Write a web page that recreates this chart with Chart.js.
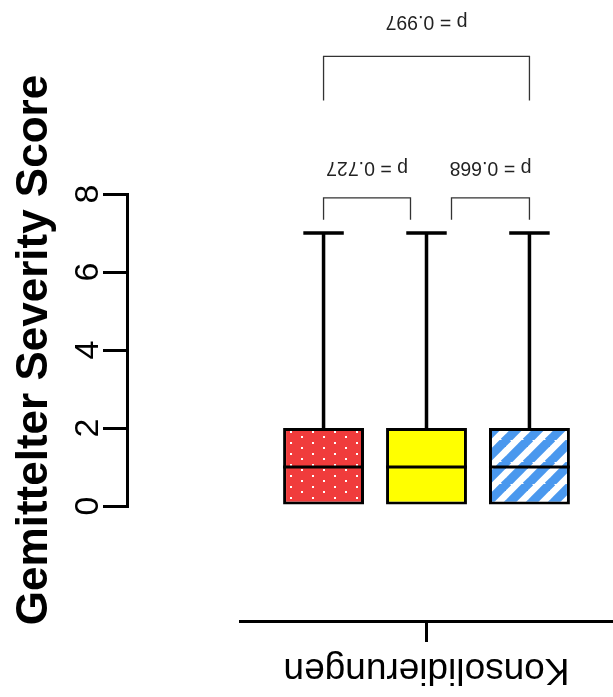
<!DOCTYPE html>
<html>
<head>
<meta charset="utf-8">
<script src="https://cdn.jsdelivr.net/npm/chart.js@4.4.1/dist/chart.umd.min.js"></script>
<style>
  body { margin: 0; background: #fff; }
  #wrap { width: 613px; height: 697px; }
</style>
</head>
<body>
<div id="wrap"><canvas id="boxChart" width="613" height="697"></canvas></div>
<script>
// data
const categories = ["Konsolidierungen"];
const groups = ["Gruppe 1", "Gruppe 2", "Gruppe 3"];
const mins = [0, 0, 0];
const q1s = [0, 0, 0];
const medians = [1, 1, 1];
const q3s = [2, 2, 2];
const maxs = [7, 7, 7];
const yTicks = [0, 2, 4, 6, 8];
const pairs = [[0, 1], [1, 2], [0, 2]];
const pLabels = ["p = 0.727", "p = 0.668", "p = 0.997"];

const FONT = '"Liberation Sans", Arial, Helvetica, sans-serif';
Chart.defaults.font.family = FONT;
Chart.defaults.color = "#000";

// fill patterns for the boxes
const makePattern = (w, h, paint) => {
    const c = document.createElement("canvas");
    c.width = w;
    c.height = h;
    paint(c.getContext("2d"), w, h);
    return c.getContext("2d").createPattern(c, "repeat");
};

const dotted = makePattern(22, 11, (g, w, h) => {
    g.fillStyle = "#f03c3c";
    g.fillRect(0, 0, w, h);
    g.fillStyle = "#fff";
    g.fillRect(4, 2, 2, 2);
    g.fillRect(15, 7, 2, 2);
});

const striped = makePattern(22, 22, (g, w, h) => {
    g.fillStyle = "#fff";
    g.fillRect(0, 0, w, h);
    g.strokeStyle = "#4a98ee";
    g.lineWidth = 9;
    [-w, 0, w].forEach(k => {
        g.beginPath();
        g.moveTo(k - 2, h + 2);
        g.lineTo(k + w + 2, -2);
        g.stroke();
    });
});

const fills = [dotted, "#ffff00", striped];

// x label is drawn upside down, so shift it back by half its width
const measure = document.createElement("canvas").getContext("2d");
measure.font = `37px ${FONT}`;
const xLabelShift = -measure.measureText(categories[0]).width / 2;

// whiskers, medians
const boxPlugin = {
    id: "boxParts",
    afterDatasetsDraw(chart) {
        const { ctx } = chart;
        const y = chart.scales.y;
        ctx.save();
        ctx.strokeStyle = "#000";
        groups.forEach((g, i) => {
            const bar = chart.getDatasetMeta(i).data[0];
            const half = bar.width / 2;
            // median
            ctx.lineWidth = 3;
            ctx.beginPath();
            ctx.moveTo(bar.x - half, y.getPixelForValue(medians[i]));
            ctx.lineTo(bar.x + half, y.getPixelForValue(medians[i]));
            ctx.stroke();
            // whiskers + caps
            ctx.lineWidth = 3.5;
            [[q3s[i], maxs[i]], [q1s[i], mins[i]]].forEach(([from, to]) => {
                if (from === to) return;
                ctx.beginPath();
                ctx.moveTo(bar.x, y.getPixelForValue(from));
                ctx.lineTo(bar.x, y.getPixelForValue(to));
                ctx.moveTo(bar.x - half / 2, y.getPixelForValue(to));
                ctx.lineTo(bar.x + half / 2, y.getPixelForValue(to));
                ctx.stroke();
            });
        });
        ctx.restore();
    }
};

// significance brackets above the boxes
const bracketSpec = [
    { top: 7.9, drop: 0.56, text: 8.68, trimL: 0, trimR: 16 },
    { top: 7.9, drop: 0.56, text: 8.68, trimL: 25, trimR: 0 },
    { top: 11.53, drop: 1.13, text: 12.43, trimL: 0, trimR: 0 }
];

const bracketPlugin = {
    id: "brackets",
    afterDraw(chart) {
        const { ctx } = chart;
        const y = chart.scales.y;
        ctx.save();
        ctx.strokeStyle = "#333";
        ctx.lineWidth = 1.3;
        ctx.fillStyle = "#222";
        ctx.font = `19.5px ${FONT}`;
        ctx.textAlign = "center";
        ctx.textBaseline = "middle";
        pairs.forEach(([a, b], k) => {
            const s = bracketSpec[k];
            const x1 = chart.getDatasetMeta(a).data[0].x + s.trimL;
            const x2 = chart.getDatasetMeta(b).data[0].x - s.trimR;
            const yt = y.getPixelForValue(s.top);
            const yb = y.getPixelForValue(s.top - s.drop);
            ctx.beginPath();
            ctx.moveTo(x1, yb);
            ctx.lineTo(x1, yt);
            ctx.lineTo(x2, yt);
            ctx.lineTo(x2, yb);
            ctx.stroke();
            ctx.save();
            ctx.translate((x1 + x2) / 2, y.getPixelForValue(s.text));
            ctx.rotate(Math.PI);
            ctx.fillText(pLabels[k], 0, 0);
            ctx.restore();
        });
        ctx.restore();
    }
};

new Chart(document.getElementById("boxChart"), {
    type: "bar",
    data: {
        labels: categories,
        datasets: groups.map((g, i) => ({
            label: g,
            data: [[q1s[i], q3s[i]]],
            backgroundColor: fills[i],
            borderColor: "#000",
            borderWidth: 3,
            borderSkipped: false,
            xAxisID: "x",
            yAxisID: "y"
        }))
    },
    options: {
        responsive: false,
        animation: false,
        categoryPercentage: 0.828,
        barPercentage: 0.786,
        layout: { padding: { top: 194, left: 0, right: 0, bottom: 0 } },
        plugins: {
            legend: { display: false },
            tooltip: { enabled: false }
        },
        scales: {
            y: {
                type: "linear",
                position: "left",
                weight: 1,
                min: 0,
                max: 8,
                afterBuildTicks: s => { s.ticks = yTicks.map(v => ({ value: v })); },
                afterFit: s => { s.width = 127; },
                ticks: {
                    minRotation: 90,
                    maxRotation: 90,
                    crossAlign: "center",
                    padding: 5,
                    color: "#000",
                    font: { size: 34 }
                },
                grid: {
                    drawOnChartArea: false,
                    drawTicks: true,
                    tickLength: 24,
                    lineWidth: 3,
                    color: "#000"
                },
                border: { display: true, width: 3, color: "#000" },
                title: {
                    display: true,
                    text: "Gemittelter Severity Score",
                    color: "#000",
                    font: { size: 44, weight: "bold" },
                    padding: { top: 8, bottom: 0 }
                }
            },
            yPad: {
                type: "linear",
                position: "left",
                weight: 0,
                afterFit: s => { s.width = 113; },
                ticks: { display: false },
                grid: { display: false },
                border: { display: false }
            },
            x: {
                type: "category",
                position: "bottom",
                weight: 1,
                afterFit: s => { s.height = 76; },
                ticks: {
                    minRotation: 180,
                    maxRotation: 180,
                    padding: 49,
                    labelOffset: xLabelShift,
                    color: "#000",
                    font: { size: 37 }
                },
                grid: {
                    offset: false,
                    drawOnChartArea: false,
                    drawTicks: true,
                    tickLength: 21,
                    lineWidth: 3,
                    color: "#000"
                },
                border: { display: true, width: 3, color: "#000" }
            },
            xPad: {
                type: "linear",
                position: "bottom",
                weight: 0,
                afterFit: s => { s.height = 115; },
                ticks: { display: false },
                grid: { display: false },
                border: { display: false }
            }
        }
    },
    plugins: [boxPlugin, bracketPlugin]
});
</script>
</body>
</html>
